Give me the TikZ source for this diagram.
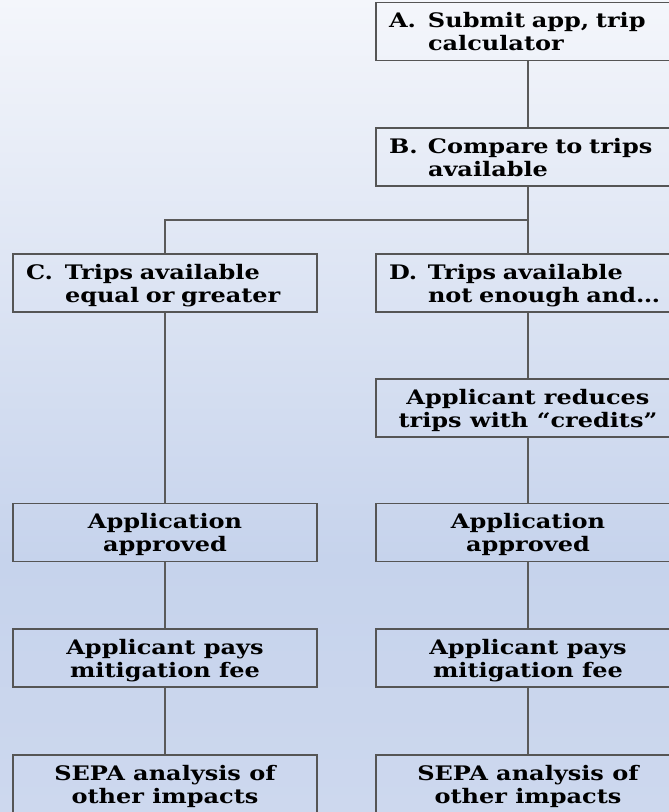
\documentclass[tikz,border=0pt]{standalone}
\usepackage{fontspec}
\usepackage{tikz}
\usetikzlibrary{calc}
\newfontfamily\stepfamily{DejaVu Serif}[FakeStretch=1.2, Ligatures=TeX]
\newcommand{\stepfont}{\stepfamily\bfseries\fontsize{20}{23}\selectfont}
\newcommand{\steptext}[3]{\raisebox{-3pt}[\height][\depth]{\begin{tabular}{@{}p{39pt}@{}l@{}}#1&#2\\&#3\end{tabular}}}
\newcommand{\plaintext}[2]{\raisebox{-3pt}[\height][\depth]{\begin{tabular}{@{}c@{}}#1\\#2\end{tabular}}}
\definecolor{bgtop}{HTML}{F4F6FB}
\definecolor{bgmid}{HTML}{C6D3EC}
\definecolor{bgbot}{HTML}{CDD8EE}
\definecolor{boxgray}{HTML}{555555}
\definecolor{linkgray}{HTML}{5A5A5A}
\tikzset{
    stepbox/.style={draw=boxgray, line width=1.1pt, minimum width=304pt, minimum height=58pt, inner xsep=13pt, inner ysep=0pt, font=\stepfont},
    lettered/.style={stepbox, text width=278pt, align=left},
    plainbox/.style={stepbox, align=center},
    link/.style={draw=linkgray, line width=1.1pt}
}

\begin{document}
\begin{tikzpicture}[x=1pt, y=-1pt]
    % background
    \useasboundingbox (0,0) rectangle (669,812);
    \shade[top color=bgtop, bottom color=bgmid] (0,0) rectangle (669,560);
    \shade[top color=bgmid, bottom color=bgbot] (0,560) rectangle (669,812);

    % top of the chart
    \node[lettered] (A) at (528,31.5) {\steptext{A.}{Submit app, trip}{calculator}};
    \node[lettered] (B) at (528,157) {\steptext{B.}{Compare to trips}{available}};

    % two branches
    \node[lettered] (C) at (165,283) {\steptext{C.}{Trips available}{equal or greater}};
    \node[lettered] (D) at (528,283) {\steptext{D.}{Trips available}{not enough and\dots}};
    \node[plainbox] (R) at (528,408) {\plaintext{Applicant reduces}{trips with ``credits''}};

    % left column
    \node[plainbox] (apL) at (165,532.5) {\plaintext{Application}{approved}};
    \node[plainbox] (payL) at (165,658) {\plaintext{Applicant pays}{mitigation fee}};
    \node[plainbox] (sepaL) at (165,784) {\plaintext{SEPA analysis of}{other impacts}};

    % right column
    \node[plainbox] (apR) at (528,532.5) {\plaintext{Application}{approved}};
    \node[plainbox] (payR) at (528,658) {\plaintext{Applicant pays}{mitigation fee}};
    \node[plainbox] (sepaR) at (528,784) {\plaintext{SEPA analysis of}{other impacts}};

    % connectors
    \coordinate (fork) at ($(B.south)!0.5!(D.north)$);
    \draw[link] (A) -- (B);
    \draw[link] (B) -- (D);
    \draw[link] (C.north) |- (fork);
    \foreach \a/\b in {C/apL, apL/payL, payL/sepaL, D/R, R/apR, apR/payR, payR/sepaR} {
        \draw[link] (\a) -- (\b);
    }
\end{tikzpicture}
\end{document}
